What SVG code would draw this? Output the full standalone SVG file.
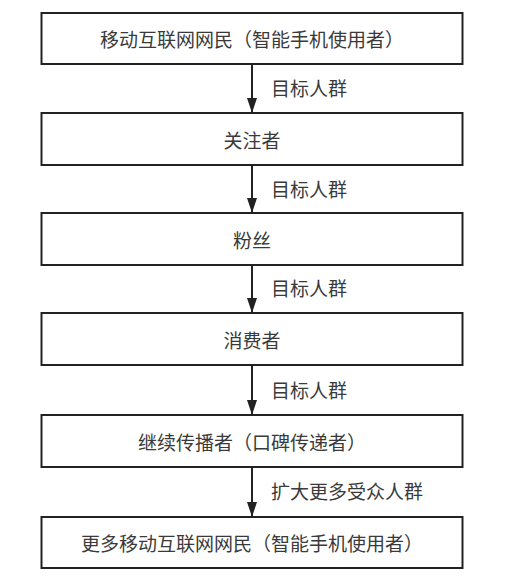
<svg xmlns="http://www.w3.org/2000/svg" width="515" height="579" viewBox="0 0 515 579">
<style>
.box{fill:#fff;stroke:#222;stroke-width:2}
.t{font-family:"Noto Sans CJK SC","Noto Sans",sans-serif;font-size:19px;fill:#3a3a3a;text-anchor:middle}
.l{font-family:"Noto Sans CJK SC","Noto Sans",sans-serif;font-size:19px;fill:#3a3a3a;text-anchor:start}
.c{stroke:#222;stroke-width:2;fill:none;marker-end:url(#ah)}
</style>
<defs>
<marker id="ah" markerUnits="userSpaceOnUse" markerWidth="16" markerHeight="12" refX="15" refY="6" orient="auto" viewBox="0 0 16 12">
<path d="M0,1 L15,6 L0,11 Z" fill="#222"/>
</marker>
</defs>
<rect width="515" height="579" fill="#fff"/>
<g id="connectors">
<line class="c" x1="252" y1="65" x2="252" y2="113"/>
<line class="c" x1="252" y1="166" x2="252" y2="213"/>
<line class="c" x1="252" y1="266" x2="252" y2="313"/>
<line class="c" x1="252" y1="366" x2="252" y2="415"/>
<line class="c" x1="252" y1="468" x2="252" y2="517"/>
<text class="l" x="271" y="96">目标人群</text>
<text class="l" x="271" y="197">目标人群</text>
<text class="l" x="271" y="296">目标人群</text>
<text class="l" x="271" y="398">目标人群</text>
<text class="l" x="271" y="499">扩大更多受众人群</text>
</g>
<g id="n1"><rect class="box" x="41.5" y="13" width="421" height="51"/><text class="t" x="252" y="47">移动互联网网民（智能手机使用者）</text></g>
<g id="n2"><rect class="box" x="41.5" y="113" width="421" height="52"/><text class="t" x="252" y="148">关注者</text></g>
<g id="n3"><rect class="box" x="41.5" y="213" width="421" height="52"/><text class="t" x="252" y="248">粉丝</text></g>
<g id="n4"><rect class="box" x="41.5" y="313" width="421" height="52"/><text class="t" x="252" y="348">消费者</text></g>
<g id="n5"><rect class="box" x="41.5" y="415" width="421" height="52"/><text class="t" x="252" y="450">继续传播者（口碑传递者）</text></g>
<g id="n6"><rect class="box" x="41.5" y="517" width="421" height="51"/><text class="t" x="252" y="551">更多移动互联网网民（智能手机使用者）</text></g>
</svg>
